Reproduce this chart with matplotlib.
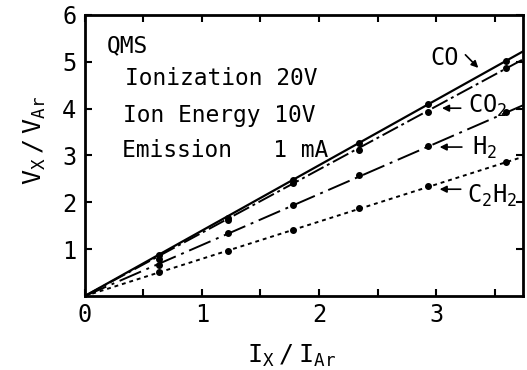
import matplotlib.pyplot as plt
from matplotlib.ticker import MultipleLocator

plt.rcParams['font.family'] = ['DejaVu Sans Mono']
plt.rcParams['mathtext.fontset'] = 'custom'
plt.rcParams['mathtext.rm'] = 'DejaVu Sans Mono'
plt.rcParams['mathtext.it'] = 'DejaVu Sans Mono'

# measured points (Ix/IAr, Vx/VAr)
x_pts = [0.63, 1.22, 1.78, 2.34, 2.93, 3.6]
co = [0.88, 1.67, 2.48, 3.27, 4.10, 5.02]
co2 = [0.80, 1.62, 2.41, 3.12, 3.93, 4.87]
h2 = [0.66, 1.35, 1.94, 2.58, 3.20, 3.93]
c2h2 = [0.51, 0.96, 1.41, 1.88, 2.35, 2.86]

# fitted lines from origin to right edge
line_x = [0, 3.74]
co_line = [0, 5.22]
co2_line = [0, 5.05]
h2_line = [0, 4.07]
c2h2_line = [0, 2.97]

fig = plt.figure(figsize=(5.27, 3.7), dpi=100)
ax = fig.add_axes([0.161, 0.2, 0.831, 0.7595])

ax.plot(line_x, co_line, color='black', lw=1.6, ls='-')
ax.plot(line_x, co2_line, color='black', lw=1.4, ls=(0, (9, 2, 1.5, 2)))
ax.plot(line_x, h2_line, color='black', lw=1.4, ls=(0, (12, 3, 1.5, 3)))
ax.plot(line_x, c2h2_line, color='black', lw=1.4, ls=(0, (2, 2)))

for ys in (co, co2, h2, c2h2):
    ax.plot(x_pts, ys, 'o', color='black', ms=4, ls='none')

ax.set_xlim(0, 3.74)
ax.set_ylim(0, 6)
ax.xaxis.set_major_locator(MultipleLocator(1))
ax.xaxis.set_minor_locator(MultipleLocator(0.5))
ax.yaxis.set_major_locator(MultipleLocator(1))
ax.tick_params(which='both', direction='in', top=True, right=True,
               labelsize=17, width=1.5, length=5)
ax.tick_params(axis='x', pad=5)
ax.tick_params(axis='y', pad=6)
ax.set_yticks([1, 2, 3, 4, 5, 6])
ax.set_xticks([0, 1, 2, 3])
for s in ax.spines.values():
    s.set_linewidth(2)

ax.set_xlabel(r'$\mathrm{I_X\ /\ I_{Ar}}$', fontsize=18)
ax.xaxis.set_label_coords(0.473, -0.165)
ax.xaxis.label.set_va('top')
ax.set_ylabel(r'$\mathrm{V_X\ /\ V_{Ar}}$', fontsize=18)
ax.yaxis.set_label_coords(-0.084, 0.555)

ax.text(0.19, 5.21, 'QMS', fontsize=16.5, va='baseline')
ax.text(0.34, 4.51, 'Ionization 20V', fontsize=16.5, va='baseline')
ax.text(0.325, 3.72, 'Ion Energy 10V', fontsize=16.5, va='baseline')
ax.text(0.32, 2.97, 'Emission   1 mA', fontsize=16.5, va='baseline')

arrow = dict(arrowstyle='-|>', color='black', lw=1.2, shrinkA=0, shrinkB=0)
ax.text(2.95, 4.93, 'CO', fontsize=17, va='baseline')
ax.annotate('', xy=(3.36, 4.87), xytext=(3.25, 5.15), arrowprops=arrow)
ax.text(3.27, 3.91, r'$\mathrm{CO_2}$', fontsize=17, va='baseline')
ax.annotate('', xy=(3.05, 4.01), xytext=(3.21, 4.01), arrowprops=arrow)
ax.text(3.31, 3.01, r'$\mathrm{H_2}$', fontsize=17, va='baseline')
ax.annotate('', xy=(3.03, 3.18), xytext=(3.22, 3.18), arrowprops=arrow)
ax.text(3.26, 1.99, r'$\mathrm{C_2H_2}$', fontsize=17, va='baseline')
ax.annotate('', xy=(3.03, 2.28), xytext=(3.21, 2.28), arrowprops=arrow)

fig.savefig('out.png', dpi=100)
